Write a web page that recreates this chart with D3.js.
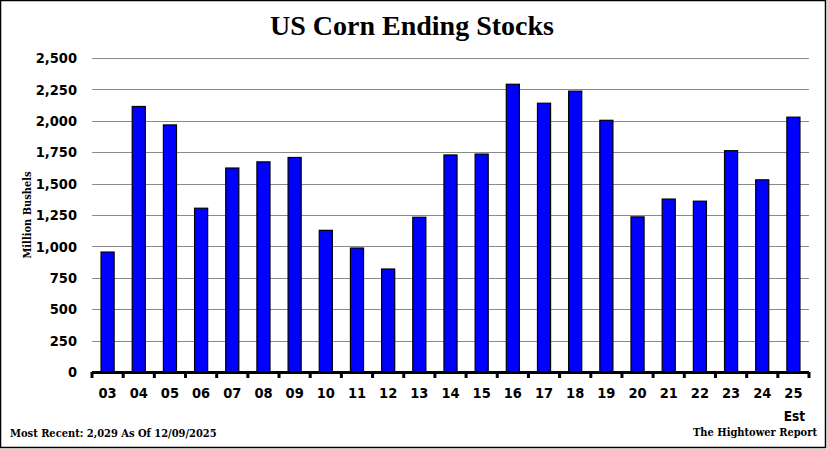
<!DOCTYPE html>
<html>
<head>
<meta charset="utf-8">
<script src="https://cdn.jsdelivr.net/npm/d3@7"></script>
<style>
  body { margin: 0; background: #fff; }
  svg { display: block; }
  .cond { font-stretch: condensed; }
</style>
</head>
<body>
<div class="chart"></div>
<script>
// marketing years (last two digits), ending stocks in million bushels
const years = ['03','04','05','06','07','08','09','10','11','12','13','14','15','16','17','18','19','20','21','22','23','24','25'];
const stocks = [955, 2114, 1967, 1304, 1624, 1673, 1708, 1128, 987, 820, 1232, 1728, 1735, 2291, 2140, 2236, 2004, 1235, 1377, 1360, 1762, 1530, 2029];
const yTicks = [0, 250, 500, 750, 1000, 1250, 1500, 1750, 2000, 2250, 2500];

const width = 827;
const height = 449;
const margin = {top: 58, right: 15, bottom: 77, left: 92};
const sansFont = "'DejaVu Sans Condensed', 'DejaVu Sans'";
const serifFont = "'DejaVu Serif Condensed', 'DejaVu Serif'";

const svg = d3.select('.chart')
  .append('svg')
  .attr('width', width)
  .attr('height', height);

// outer frame
svg.append('rect')
  .attr('x', 0.5).attr('y', 0.5)
  .attr('width', 825).attr('height', 447)
  .attr('fill', 'none')
  .attr('stroke', '#000')
  .attr('stroke-width', 1.5);

const x = d3.scaleBand()
  .domain(years)
  .range([margin.left, width - margin.right - 3])
  .paddingInner(0.58)
  .paddingOuter(0.29);

const y = d3.scaleLinear()
  .domain([0, 2500])
  .range([height - margin.bottom, margin.top]);

// grid lines
svg.append('g')
  .selectAll('line')
  .data(yTicks.filter(d => d > 0))
  .enter()
  .append('line')
  .attr('x1', margin.left)
  .attr('x2', width - margin.right - 3)
  .attr('y1', d => Math.round(y(d)) + 0.5)
  .attr('y2', d => Math.round(y(d)) + 0.5)
  .attr('stroke', '#8a8a8a')
  .attr('stroke-width', 1.2);

// y tick labels
svg.append('g')
  .selectAll('text')
  .data(yTicks)
  .enter()
  .append('text')
  .attr('class', 'cond')
  .attr('x', 77)
  .attr('y', d => y(d))
  .attr('dy', '0.36em')
  .attr('text-anchor', 'end')
  .attr('font-family', sansFont)
  .attr('font-weight', 'bold')
  .attr('font-size', 14.5)
  .text(d => d3.format(',')(d));

// bars
svg.append('g')
  .selectAll('rect')
  .data(stocks)
  .enter()
  .append('rect')
  .attr('x', (d, i) => x(years[i]))
  .attr('y', d => y(d))
  .attr('width', x.bandwidth())
  .attr('height', d => y(0) - y(d))
  .attr('fill', '#0000ff')
  .attr('stroke', '#000')
  .attr('stroke-width', 1.2);

// x axis
const xAxis = d3.axisBottom(x)
  .tickSize(0)
  .tickPadding(16);

const gx = svg.append('g')
  .attr('transform', `translate(0,${y(0)})`)
  .call(xAxis);
gx.select('.domain').remove();
gx.selectAll('text')
  .attr('class', 'cond')
  .attr('font-family', sansFont)
  .attr('font-weight', 'bold')
  .attr('font-size', 14.5)
  .attr('fill', '#000');

const step = x.step();
const left = margin.left;
const right = width - margin.right - 3;
svg.append('line')
  .attr('x1', left).attr('x2', right)
  .attr('y1', y(0) + 0.5).attr('y2', y(0) + 0.5)
  .attr('stroke', '#000')
  .attr('stroke-width', 3);

svg.append('g')
  .selectAll('line')
  .data(d3.range(years.length + 1))
  .enter()
  .append('line')
  .attr('x1', i => left + i * step)
  .attr('x2', i => left + i * step)
  .attr('y1', y(0))
  .attr('y2', y(0) + 6)
  .attr('stroke', '#000')
  .attr('stroke-width', 3);

// "Est" under the last year
svg.append('text')
  .attr('class', 'cond')
  .attr('x', x('25') + x.bandwidth() / 2 + 1)
  .attr('y', 421)
  .attr('text-anchor', 'middle')
  .attr('font-family', sansFont)
  .attr('font-weight', 'bold')
  .attr('font-size', 13.5)
  .text('Est');

// title
svg.append('text')
  .attr('x', 412)
  .attr('y', 35)
  .attr('text-anchor', 'middle')
  .attr('font-family', 'Liberation Serif')
  .attr('font-weight', 'bold')
  .attr('font-size', 28)
  .text('US Corn Ending Stocks');

// y axis title
svg.append('text')
  .attr('class', 'cond')
  .attr('transform', 'translate(31,215) rotate(-90)')
  .attr('text-anchor', 'middle')
  .attr('font-family', serifFont)
  .attr('font-weight', 'bold')
  .attr('font-size', 11)
  .text('Million Bushels');

// footers
svg.append('text')
  .attr('class', 'cond')
  .attr('x', 10)
  .attr('y', 437)
  .attr('font-family', serifFont)
  .attr('font-weight', 'bold')
  .attr('font-size', 11)
  .text('Most Recent: 2,029 As Of 12/09/2025');

svg.append('text')
  .attr('class', 'cond')
  .attr('x', 817)
  .attr('y', 435.5)
  .attr('text-anchor', 'end')
  .attr('font-family', serifFont)
  .attr('font-weight', 'bold')
  .attr('font-size', 11)
  .text('The Hightower Report');
</script>
</body>
</html>
